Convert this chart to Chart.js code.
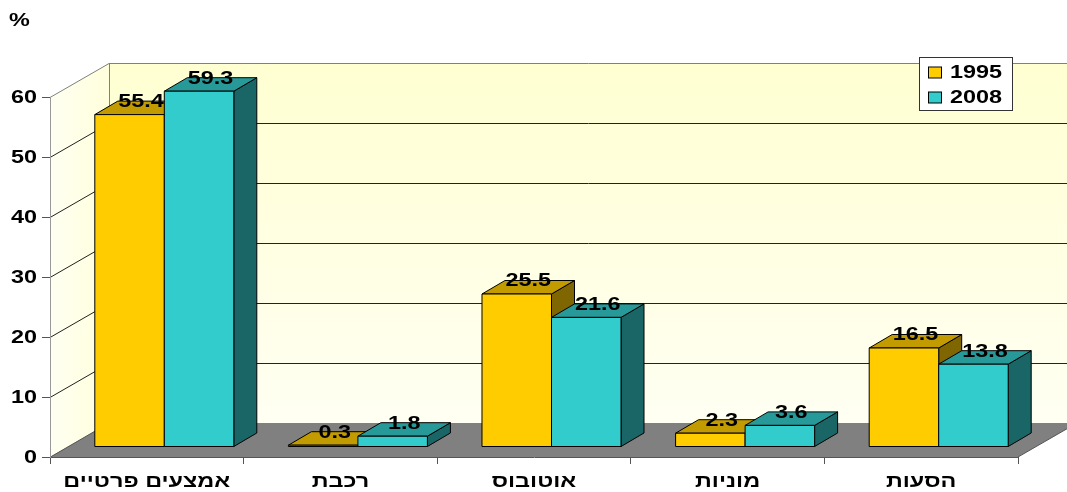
<!DOCTYPE html>
<html>
<head>
<meta charset="utf-8">
<script src="https://cdn.jsdelivr.net/npm/chart.js@4.4.1/dist/chart.umd.min.js"></script>
<style>
  html, body { margin: 0; padding: 0; background: #fff; }
  #wrap { width: 1067px; height: 492px; }
</style>
</head>
<body>
<div id="wrap"><canvas id="barChart" width="1067" height="492"></canvas></div>
<script>
const categories = ['אמצעים פרטיים', 'רכבת', 'אוטובוס', 'מוניות', 'הסעות'];
const values1995 = [55.4, 0.3, 25.5, 2.3, 16.5];
const values2008 = [59.3, 1.8, 21.6, 3.6, 13.8];
const seriesNames = ['1995', '2008'];
const yTicks = [0, 10, 20, 30, 40, 50, 60];

const FONT = 'bold 18px "Liberation Sans", Arial, sans-serif';
const TEXT_SX = 1.3; // text is drawn a bit wide
// offsets that give the fake 3D look
const WALL = { dx: 59, dy: -34 };
const BAR_FRONT = { dx: 17.5, dy: -10 };
const BAR_DEPTH = { dx: 23, dy: -13.5 };

const faces = [
  { front: '#FFCC00', top: '#C29B00', side: '#806600' },
  { front: '#33CCCC', top: '#279999', side: '#1A6666' }
];

function poly(ctx, pts, fill, stroke) {
  ctx.beginPath();
  ctx.moveTo(pts[0][0], pts[0][1]);
  for (let i = 1; i < pts.length; i++) ctx.lineTo(pts[i][0], pts[i][1]);
  ctx.closePath();
  if (fill) { ctx.fillStyle = fill; ctx.fill(); }
  if (stroke) { ctx.strokeStyle = stroke; ctx.lineWidth = 1; ctx.stroke(); }
}

function line(ctx, x1, y1, x2, y2, color) {
  ctx.beginPath();
  ctx.moveTo(x1, y1);
  ctx.lineTo(x2, y2);
  ctx.strokeStyle = color;
  ctx.lineWidth = 1;
  ctx.stroke();
}

function text(ctx, str, x, y, align) {
  ctx.save();
  ctx.translate(x, y);
  ctx.scale(TEXT_SX, 1);
  ctx.font = FONT;
  ctx.fillStyle = '#000';
  ctx.textAlign = align;
  ctx.textBaseline = 'middle';
  ctx.fillText(str, 0, 0);
  ctx.restore();
}

// back wall, side wall, floor and gridlines
const walls3d = {
  id: 'walls3d',
  beforeDraw(chart) {
    const { ctx, chartArea: a, scales: { y } } = chart;
    const L = a.left, R = a.right;
    const T = y.getPixelForValue(yTicks[yTicks.length - 1]);
    const B = y.getPixelForValue(0);
    ctx.save();

    let g = ctx.createLinearGradient(0, T + WALL.dy, 0, B + WALL.dy);
    g.addColorStop(0, '#FFFFD2');
    g.addColorStop(1, '#FFFFF3');
    ctx.fillStyle = g;
    ctx.fillRect(L + WALL.dx, T + WALL.dy, R - L + 10, B - T);

    g = ctx.createLinearGradient(L, 0, L + WALL.dx, 0);
    g.addColorStop(0, '#FFFFF2');
    g.addColorStop(1, '#FFFFDC');
    poly(ctx, [[L, T], [L + WALL.dx, T + WALL.dy], [L + WALL.dx, B + WALL.dy], [L, B]], g);

    poly(ctx, [[L, B], [R, B], [R + WALL.dx, B + WALL.dy], [L + WALL.dx, B + WALL.dy]], '#808080');

    yTicks.forEach(v => {
      if (v === 0) return;
      const py = y.getPixelForValue(v);
      const c = v === yTicks[yTicks.length - 1] ? '#808080' : '#222';
      line(ctx, L, py + 0.5, L + WALL.dx, py + WALL.dy + 0.5, c);
      line(ctx, L + WALL.dx, py + WALL.dy + 0.5, R + WALL.dx, py + WALL.dy + 0.5, c);
    });
    line(ctx, L + WALL.dx + 0.5, T + WALL.dy, L + WALL.dx + 0.5, B + WALL.dy, '#808080');
    line(ctx, L + 0.5, B, L + WALL.dx, B + WALL.dy, '#555');
    line(ctx, R, B, R + WALL.dx, B + WALL.dy, '#555');
    ctx.restore();
  }
};

// bars as boxes, value labels, axis labels, legend
const bars3d = {
  id: 'bars3d',
  afterDatasetsDraw(chart) {
    const { ctx } = chart;
    const metas = chart.data.datasets.map((d, i) => chart.getDatasetMeta(i));
    ctx.save();
    const tops = [];
    categories.forEach((c, ci) => {
      metas.forEach((meta, di) => {
        const el = meta.data[ci];
        const f = faces[di];
        const x0 = el.x - el.width / 2 + BAR_FRONT.dx;
        const x1 = el.x + el.width / 2 + BAR_FRONT.dx;
        const yt = el.y + BAR_FRONT.dy;
        const yb = el.base + BAR_FRONT.dy;
        const dx = BAR_DEPTH.dx, dy = BAR_DEPTH.dy;
        poly(ctx, [[x1, yt], [x1 + dx, yt + dy], [x1 + dx, yb + dy], [x1, yb]], f.side, '#000');
        poly(ctx, [[x0, yt], [x1, yt], [x1 + dx, yt + dy], [x0 + dx, yt + dy]], f.top, '#000');
        poly(ctx, [[x0, yt], [x1, yt], [x1, yb], [x0, yb]], f.front, '#000');
        tops.push({ x: (x0 + x1 + dx) / 2, y: yt + dy, v: chart.data.datasets[di].data[ci] });
      });
    });
    tops.forEach(t => text(ctx, t.v.toFixed(1), t.x, t.y + 1, 'center'));
    ctx.restore();
  },
  afterDraw(chart) {
    const { ctx, scales: { x, y } } = chart;
    text(ctx, '%', 9, 21, 'left');

    yTicks.forEach(v => text(ctx, String(v), 37, y.getPixelForValue(v) + 1, 'right'));
    categories.forEach((c, i) => text(ctx, c, x.getPixelForValue(i), 482, 'center'));

    // legend
    ctx.save();
    ctx.fillStyle = '#fff';
    ctx.fillRect(919.5, 57.5, 93, 53);
    ctx.strokeStyle = '#333';
    ctx.lineWidth = 1;
    ctx.strokeRect(919.5, 57.5, 93, 53);
    seriesNames.forEach((name, i) => {
      const cy = 72.5 + i * 25;
      ctx.fillStyle = faces[i].front;
      ctx.fillRect(928.5, cy - 5.5, 13, 11);
      ctx.strokeStyle = '#000';
      ctx.strokeRect(928.5, cy - 5.5, 13, 11);
      text(ctx, name, 950, cy + 1, 'left');
    });
    ctx.restore();
  }
};

const ctx = document.getElementById('barChart').getContext('2d');
new Chart(ctx, {
  type: 'bar',
  data: {
    labels: categories,
    datasets: [
      { label: seriesNames[0], data: values1995, backgroundColor: 'rgba(0,0,0,0)', borderWidth: 0 },
      { label: seriesNames[1], data: values2008, backgroundColor: 'rgba(0,0,0,0)', borderWidth: 0 }
    ]
  },
  options: {
    responsive: false,
    animation: false,
    devicePixelRatio: 1,
    categoryPercentage: 0.718,
    barPercentage: 1,
    layout: { padding: { top: 97, right: 49, left: 0, bottom: 0 } },
    plugins: { legend: { display: false }, tooltip: { enabled: false } },
    scales: {
      x: {
        afterFit: s => { s.height = 35; },
        grid: { drawOnChartArea: false, tickLength: 7, color: '#555' },
        border: { color: '#555' },
        ticks: { display: false }
      },
      y: {
        min: 0,
        max: 60,
        afterFit: s => { s.width = 50; },
        grid: { drawOnChartArea: false, tickLength: 8, color: '#555' },
        border: { color: '#999' },
        ticks: { stepSize: 10, display: false }
      }
    }
  },
  plugins: [walls3d, bars3d]
});
</script>
</body>
</html>
